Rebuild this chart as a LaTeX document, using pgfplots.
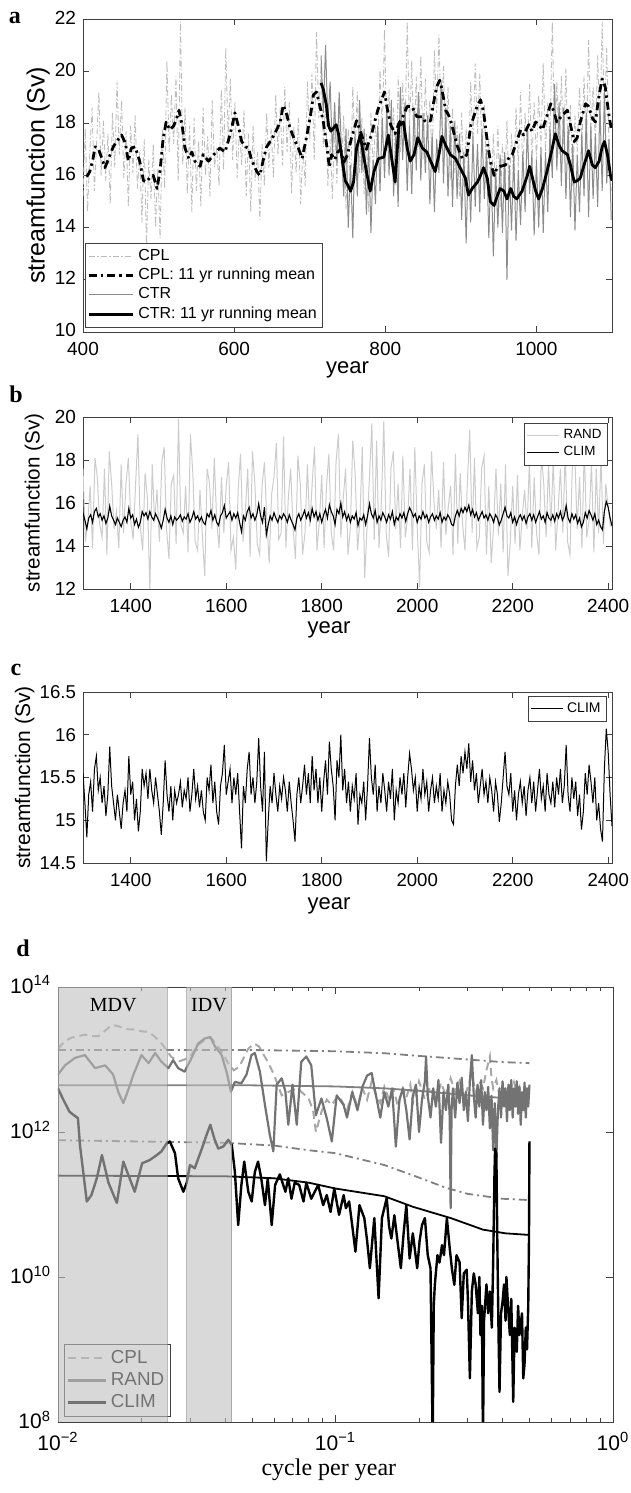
\documentclass[border=0pt]{standalone}
\usepackage{fontspec}
\setmainfont{Liberation Sans}
\newfontfamily\tms{Liberation Serif}
\usepackage{pgfplots}
\usepackage{pgfplotstable}
\pgfplotsset{compat=1.18}

\definecolor{cCPL}{gray}{0.74}
\definecolor{cCTR}{gray}{0.55}
\definecolor{cRAND}{gray}{0.80}
\definecolor{sCPL}{gray}{0.66}
\definecolor{sRAND}{gray}{0.45}
\definecolor{sSIG}{gray}{0.50}

\tikzset{
 cplraw/.style={color=cCPL, line width=0.45pt, dash pattern=on 3pt off 1.2pt on 0.6pt off 1.2pt},
 cplmean/.style={black, line width=1.4pt, line join=round, dash pattern=on 4pt off 2pt on 1.2pt off 2pt},
 ctrraw/.style={color=cCTR, line width=0.5pt},
 ctrmean/.style={black, line width=1.4pt, line join=round},
 randraw/.style={color=cRAND, line width=0.5pt},
 climraw/.style={black, line width=0.55pt},
 speccpl/.style={color=sCPL, line width=1pt, dash pattern=on 4pt off 2.5pt},
 specrand/.style={color=sRAND, line width=1.1pt, line join=round},
 specclim/.style={black, line width=1.2pt, line join=round},
 specsig/.style={color=sSIG, line width=0.9pt, dash pattern=on 4pt off 2pt on 1pt off 2pt},
 specrfit/.style={color=sSIG, line width=0.9pt},
 speccfit/.style={black, line width=0.9pt},
}

\pgfplotsset{
 panelstyle/.style={scale only axis, anchor=south west, width=264.5pt,
  axis line style={black!75}, tick style={black!75, line width=0.4pt},
  major tick length=3pt, tick align=inside,
  /pgf/number format/1000 sep={}, /pgf/number format/assume math mode=true,
  ticklabel style={font=\fontsize{9.5}{10}\selectfont},
  xticklabel style={yshift=-1.5pt},
  legend cell align=left,
  legend style={draw=black!75, fill=white, inner sep=1pt, row sep=-1.5pt},
 },
}

% ---------------- panel a data ----------------
\pgfplotstableread[row sep=\\]{v\\
15.2\\17.8\\14.6\\16.9\\18.6\\15.4\\17.2\\19.2\\16.0\\18.1\\
15.8\\17.6\\14.9\\18.4\\16.3\\19.6\\16.8\\18.9\\15.9\\17.7\\
14.8\\17.9\\16.1\\18.3\\15.5\\16.9\\14.2\\17.4\\13.3\\16.6\\
15.1\\17.2\\14.0\\16.3\\13.6\\17.8\\15.5\\20.4\\16.9\\19.1\\
17.2\\19.8\\15.8\\21.9\\16.4\\18.6\\15.3\\17.9\\14.6\\18.2\\
15.4\\17.3\\14.8\\18.6\\16.0\\17.5\\15.2\\18.9\\16.3\\17.1\\
15.6\\19.3\\16.2\\20.9\\17.4\\19.7\\16.6\\18.8\\15.9\\17.8\\
16.4\\18.5\\15.2\\17.6\\14.6\\17.9\\15.8\\16.9\\14.3\\17.2\\
15.6\\18.4\\16.3\\17.8\\15.9\\19.1\\16.8\\18.6\\16.4\\19.4\\
16.9\\18.8\\15.3\\17.9\\16.1\\18.2\\14.9\\17.1\\15.6\\19.6\\
17.4\\19.9\\16.6\\21.5\\18.2\\20.3\\17.1\\18.8\\15.6\\17.4\\
15.1\\17.9\\15.7\\18.6\\16.2\\18.3\\14.7\\17.8\\15.4\\19.4\\
16.8\\19.2\\16.1\\18.2\\15.3\\17.6\\14.6\\18.4\\16.2\\17.9\\
16.9\\20.1\\17.6\\21.6\\17.2\\19.3\\16.4\\18.6\\15.6\\19.8\\
16.9\\19.6\\17.3\\21.9\\17.8\\20.4\\16.9\\19.8\\17.1\\20.6\\
16.6\\19.7\\17.4\\18.9\\16.3\\20.8\\18.4\\21.4\\17.9\\20.2\\
16.9\\19.4\\15.8\\18.6\\16.1\\17.9\\15.2\\18.4\\15.6\\17.8\\
16.2\\19.6\\17.1\\20.3\\17.6\\19.9\\16.8\\18.7\\15.9\\17.4\\
14.9\\17.6\\15.2\\17.9\\14.8\\17.2\\15.4\\18.1\\15.1\\17.6\\
15.8\\18.6\\16.3\\19.2\\16.1\\18.4\\16.9\\19.5\\16.4\\18.8\\
16.6\\19.1\\17.2\\20.3\\16.9\\18.8\\17.4\\21.9\\17.3\\19.6\\
16.8\\19.8\\17.2\\20.1\\16.4\\18.7\\15.6\\18.3\\16.9\\19.4\\
17.1\\19.8\\16.9\\21.2\\17.6\\19.4\\17.2\\20.6\\17.8\\21.9\\
18.1\\20.9\\17.2\\15.4\\
}\cplrawtab

\pgfplotstableread[row sep=\\]{v\\
20.6\\18.4\\21.0\\17.9\\19.6\\16.8\\18.8\\16.4\\19.2\\17.0\\
15.2\\17.8\\14.0\\16.4\\13.6\\17.6\\15.2\\18.9\\16.1\\17.8\\
14.5\\17.2\\13.8\\16.6\\14.9\\17.9\\15.4\\18.2\\15.9\\18.6\\
16.0\\18.9\\15.2\\17.6\\14.8\\19.4\\16.6\\18.8\\15.4\\17.9\\
15.3\\18.6\\16.2\\19.2\\15.8\\18.4\\16.1\\18.3\\14.9\\17.6\\
14.6\\17.4\\16.1\\19.6\\15.7\\18.6\\15.2\\17.9\\14.8\\18.1\\
15.1\\17.6\\14.3\\16.9\\13.4\\16.8\\14.2\\17.5\\14.8\\17.2\\
14.6\\17.8\\15.1\\17.0\\13.6\\16.4\\12.9\\16.2\\14.0\\16.8\\
13.8\\16.9\\12.0\\16.4\\13.9\\16.8\\13.5\\16.2\\14.1\\16.9\\
14.6\\17.9\\15.3\\16.8\\13.7\\16.6\\14.0\\17.1\\13.8\\16.9\\
14.6\\17.8\\15.9\\19.5\\16.2\\18.8\\15.6\\18.6\\15.1\\17.9\\
14.4\\17.2\\13.9\\16.8\\14.6\\17.6\\15.2\\18.4\\14.4\\17.9\\
15.1\\17.6\\14.8\\18.8\\15.4\\19.2\\15.7\\17.4\\14.3\\
}\ctrrawtab

\pgfplotstableread{
x y
405 15.95
409 16.15
413 16.6
416 17.1
420 17.05
425 16.65
429 16.3
434 16.65
440 17.1
447 17.4
451 17.55
456 17.25
460 16.55
464 17.05
469 17.1
475 16.55
480 15.8
484 15.75
489 15.95
493 16.0
498 15.5
502 16.2
506 17.4
510 18.05
515 17.75
520 17.9
524 18.2
527 18.5
531 17.95
535 17.05
540 16.65
544 16.9
548 16.55
555 16.35
559 16.8
566 16.55
573 16.8
581 17.05
588 16.9
592 17.3
597 17.85
601 18.4
606 17.85
610 17.3
615 17.1
619 17.05
623 16.6
630 16.15
634 16.0
639 16.65
643 17.1
650 17.4
657 17.8
661 18.05
665 18.7
670 18.3
674 17.8
681 17.3
685 17.05
690 16.65
696 17.5
701 18.3
705 19.1
709 19.2
714 18.6
718 18.05
723 17.05
726 16.3
729 16.8
733 16.6
737 16.9
741 17.0
745 16.5
750 16.8
755 17.4
762 18.1
768 17.6
775 17.0
782 17.6
790 18.5
795 18.9
799 19.2
803 18.5
807 17.95
813 17.6
818 18.0
824 18.3
829 18.65
835 18.65
842 18.25
849 18.25
853 18.05
860 18.1
864 18.8
868 19.4
872 19.65
875 19.3
880 18.5
884 18.3
888 17.95
895 17.15
902 16.65
908 16.8
913 17.9
917 18.25
922 18.7
926 18.9
930 18.45
935 17.3
939 16.55
944 16.0
948 16.3
952 16.35
959 16.4
963 16.65
968 16.8
972 17.15
979 17.75
983 17.55
990 17.95
994 17.7
999 18.05
1003 17.95
1008 17.75
1014 18.3
1019 18.75
1023 18.45
1027 18.05
1034 18.3
1041 18.5
1045 17.95
1050 17.3
1054 17.45
1058 18.05
1065 18.75
1069 18.65
1074 18.2
1078 18.05
1083 19.1
1087 19.7
1091 19.4
1096 18.3
1099 17.8
}\cplmeantab

\pgfplotstableread{
x y
715 19.55
718 19.3
722 18.7
725 17.9
728 17.7
731 17.8
735 17.95
738 17.6
741 17.0
744 16.4
747 15.8
751 15.6
754 15.4
758 15.75
762 17.05
767 17.55
771 16.8
776 16.0
780 15.4
785 16.15
791 16.65
798 16.7
804 17.55
809 16.55
813 15.75
818 17.9
824 18.05
829 17.05
833 16.55
838 16.8
843 17.45
849 17.05
855 16.9
860 16.55
866 16.15
871 16.8
875 17.5
880 17.15
886 16.8
893 16.65
899 16.3
906 15.9
910 15.25
915 15.5
922 15.75
926 16.0
930 16.3
935 15.9
939 15.0
944 14.85
948 15.2
952 15.5
957 15.4
961 15.1
966 15.5
970 15.2
974 15.1
981 15.4
988 16.0
991 16.35
994 16.0
999 15.4
1003 15.1
1008 15.5
1014 16.15
1021 17.05
1025 17.6
1030 17.15
1034 16.95
1041 16.8
1045 16.4
1050 15.75
1054 15.8
1058 15.9
1063 16.4
1069 16.95
1074 16.4
1078 16.3
1083 16.55
1087 17.1
1090 17.3
1094 16.8
1098 16.0
1100 15.8
}\ctrmeantab

% ---------------- panel b/c data ----------------
\pgfplotstableread[row sep=\\]{v\\
17.6\\14.2\\15.1\\16.8\\13.9\\18.1\\17.2\\15.0\\14.4\\17.6\\
13.6\\18.4\\16.9\\14.8\\15.6\\13.9\\17.8\\14.6\\16.9\\18.1\\
15.2\\14.3\\16.8\\19.2\\14.9\\13.8\\17.4\\16.2\\11.9\\17.8\\
15.1\\16.6\\14.2\\17.9\\18.6\\14.8\\13.4\\16.9\\17.3\\14.1\\
19.9\\15.0\\14.6\\16.8\\13.7\\19.2\\17.4\\14.2\\13.8\\16.6\\
14.5\\12.6\\17.6\\16.9\\14.8\\18.1\\15.2\\13.9\\17.2\\14.6\\
16.8\\17.9\\13.8\\14.4\\12.9\\16.6\\18.3\\14.2\\15.6\\17.6\\
13.5\\18.4\\16.9\\14.1\\13.6\\16.8\\17.9\\15.2\\13.2\\16.4\\
17.2\\18.8\\14.3\\14.6\\19.1\\13.9\\16.2\\17.6\\14.8\\13.4\\
18.2\\16.9\\13.6\\14.6\\17.8\\14.9\\16.9\\18.6\\13.8\\15.1\\
17.3\\13.9\\16.8\\18.3\\14.6\\13.8\\17.9\\19.2\\14.4\\16.2\\
17.6\\13.6\\14.8\\18.9\\17.4\\13.8\\15.2\\18.6\\12.5\\14.9\\
17.2\\19.7\\14.3\\18.9\\13.9\\16.1\\19.8\\14.6\\13.5\\17.6\\
18.4\\14.8\\16.9\\13.9\\18.2\\14.4\\15.3\\17.6\\13.8\\18.6\\
14.9\\12.1\\16.9\\17.8\\14.2\\13.7\\18.4\\16.1\\14.8\\16.6\\
13.9\\17.9\\14.5\\15.8\\16.8\\13.6\\18.3\\14.1\\17.4\\15.0\\
13.8\\16.9\\19.4\\14.6\\18.1\\13.9\\14.4\\17.6\\18.2\\13.6\\
16.8\\13.2\\14.9\\17.6\\14.5\\16.9\\13.7\\17.8\\12.6\\14.2\\
16.8\\14.1\\17.3\\13.8\\15.4\\16.6\\14.8\\17.9\\13.9\\17.2\\
14.6\\13.6\\18.2\\16.9\\14.4\\17.8\\14.9\\18.1\\13.8\\15.6\\
17.6\\14.6\\18.4\\14.2\\13.6\\17.8\\18.3\\14.8\\17.2\\13.9\\
18.6\\14.4\\15.2\\17.9\\13.7\\17.6\\14.6\\18.2\\14.1\\16.9\\
15.8\\14.9\\
}\randtab

\pgfplotstableread[row sep=\\]{v\\
15.55\\15.2\\14.8\\15.3\\15.45\\15.1\\15.6\\15.75\\15.35\\15.5\\
15.2\\15.4\\15.05\\15.3\\15.86\\15.4\\15.2\\15.0\\15.3\\15.1\\
14.9\\15.2\\15.35\\15.1\\15.75\\15.3\\15.45\\15.0\\15.25\\14.87\\
15.1\\15.6\\15.4\\15.55\\15.25\\15.6\\15.35\\15.2\\15.5\\15.3\\
15.1\\14.83\\15.2\\15.7\\15.3\\15.1\\15.4\\15.0\\15.35\\15.2\\
15.3\\15.45\\15.15\\15.35\\15.25\\15.5\\15.1\\15.3\\15.6\\15.25\\
15.4\\15.15\\15.35\\15.1\\15.0\\15.5\\15.35\\15.65\\15.2\\15.45\\
15.1\\14.95\\15.4\\15.55\\15.88\\15.3\\15.45\\15.6\\15.2\\15.5\\
15.3\\15.55\\15.1\\14.67\\15.4\\15.2\\15.6\\15.8\\15.3\\15.5\\
15.2\\15.45\\15.96\\15.4\\15.1\\15.8\\14.52\\15.0\\15.4\\15.2\\
15.55\\15.3\\15.1\\15.4\\15.25\\15.5\\15.35\\15.1\\15.45\\15.2\\
15.0\\14.75\\15.3\\15.5\\15.2\\15.4\\15.65\\15.3\\15.55\\15.2\\
15.75\\15.35\\15.6\\15.2\\15.5\\15.1\\15.45\\15.7\\15.3\\15.92\\
15.6\\15.4\\15.0\\15.7\\15.5\\16.0\\15.35\\15.6\\15.2\\15.45\\
15.1\\15.4\\15.25\\15.55\\14.95\\15.3\\15.2\\15.45\\15.0\\15.4\\
15.96\\15.5\\15.3\\15.65\\15.1\\15.4\\15.2\\15.55\\15.35\\15.1\\
15.45\\15.25\\15.6\\15.0\\15.35\\15.2\\15.5\\15.3\\15.55\\15.15\\
15.5\\15.78\\15.6\\15.35\\15.5\\15.1\\15.4\\15.25\\15.6\\15.3\\
15.45\\15.1\\15.35\\15.5\\15.2\\15.4\\15.25\\15.55\\15.1\\15.35\\
15.2\\15.45\\15.3\\15.0\\14.95\\15.4\\15.65\\15.4\\15.75\\15.55\\
15.8\\15.6\\15.9\\15.45\\15.7\\15.35\\15.55\\15.2\\15.4\\15.6\\
15.3\\15.45\\15.2\\15.5\\15.35\\15.1\\15.45\\15.3\\14.98\\15.2\\
15.5\\15.8\\15.4\\15.3\\15.55\\15.1\\15.35\\15.0\\15.3\\15.45\\
15.2\\15.4\\15.05\\15.35\\15.5\\15.2\\15.45\\15.1\\15.35\\15.6\\
15.25\\15.4\\15.1\\15.55\\15.3\\15.2\\15.45\\15.15\\15.5\\15.3\\
15.6\\15.2\\15.4\\15.88\\15.3\\15.1\\15.5\\15.25\\15.45\\15.05\\
15.3\\14.89\\15.1\\15.55\\15.3\\15.65\\15.45\\15.2\\15.5\\15.0\\
15.2\\14.9\\14.75\\15.6\\16.07\\15.8\\15.3\\14.93\\
}\climtab

% ---------------- panel d data ----------------
\pgfplotstableread{
x y
0.0100 1.4e13
0.0106 1.8e13
0.0112 2.0e13
0.0118 2.1e13
0.0125 2.2e13
0.0132 2.1e13
0.0140 2.1e13
0.0148 2.5e13
0.0156 3.0e13
0.0164 2.9e13
0.0172 2.7e13
0.0180 2.6e13
0.0189 2.6e13
0.0200 2.45e13
0.0212 2.4e13
0.0222 2.1e13
0.0230 1.85e13
0.0238 1.6e13
0.0246 1.35e13
0.0255 1.1e13
0.0265 1.0e13
0.0275 9.5e12
0.0286 1.0e13
0.0300 1.12e13
0.0320 1.58e13
0.0340 1.9e13
0.0355 2.0e13
0.0370 1.66e13
0.0390 1.26e13
0.0410 8.9e12
0.0430 7.1e12
0.0450 7.9e12
0.0485 1.41e13
0.0510 1.66e13
0.0530 1.51e13
0.0570 9.3e12
0.0600 6.2e12
0.0640 3.2e12
0.0680 3.6e12
0.0730 4.0e12
0.0800 2.9e12
0.0830 2.0e12
0.0850 1.0e12
0.0890 1.9e12
0.0930 2.8e12
0.0970 2.35e12
0.1020 3.16e12
0.1050 2.75e12
0.110 2.0e12
0.115 3.55e12
0.120 2.24e12
0.125 4.0e12
0.130 2.8e12
0.135 5.0e12
0.140 3.16e12
0.145 2.5e12
0.150 4.2e12
0.156 2.8e12
0.162 3.8e12
0.168 2.24e12
0.175 4.0e12
0.180 3.0e12
0.186 4.5e12
0.190 2.5e12
0.196 3.55e12
0.200 5.0e12
0.210 2.8e12
0.220 4.2e12
0.230 2.5e12
0.240 4.8e12
0.250 3.16e12
0.260 5.5e12
0.270 3.55e12
0.280 5.0e12
0.290 2.8e12
0.300 4.2e12
0.310 6.3e12
0.320 3.55e12
0.330 5.0e12
0.340 4.0e12
0.350 7.1e12
0.360 1.1e13
0.365 5.6e12
0.370 4.0e12
0.380 5.2e12
0.390 3.16e12
0.400 4.5e12
0.410 2.8e12
0.420 4.0e12
0.430 3.16e12
0.440 4.8e12
0.450 3.55e12
0.460 4.2e12
0.470 2.8e12
0.480 4.0e12
0.490 3.16e12
0.500 3.55e12
}\dcpltab

\pgfplotstableread{
x y
0.0100 6.2e12
0.0106 8.3e12
0.0115 1.05e13
0.0125 1.15e13
0.0136 7.6e12
0.0148 8.3e12
0.0158 6.2e12
0.0165 3.55e12
0.0172 2.5e12
0.0180 4.0e12
0.0187 6.2e12
0.0200 1.15e13
0.0212 8.9e12
0.0224 1.23e13
0.0236 9.3e12
0.0250 7.6e12
0.0260 9.8e12
0.0271 7.6e12
0.0286 6.8e12
0.0303 1.05e13
0.0320 1.66e13
0.0338 1.95e13
0.0354 2.04e13
0.0368 1.51e13
0.0389 1.15e13
0.0406 6.5e12
0.0420 3.6e12
0.0434 4.9e12
0.0458 4.7e12
0.0478 6.2e12
0.0498 1.15e13
0.0512 1.23e13
0.0534 6.8e12
0.0557 2.35e12
0.0580 9.1e11
0.0597 5.4e11
0.0614 4.5e12
0.0640 5.5e12
0.0660 3.6e12
0.0676 1.26e12
0.0700 4.5e12
0.0725 1.26e12
0.0753 9.3e12
0.0785 1.1e13
0.0818 8.3e12
0.0850 1.7e12
0.0890 2.9e12
0.0930 1.55e12
0.0970 7.4e11
0.1010 3.2e12
0.1070 2.35e12
0.110 1.58e12
0.115 3.55e12
0.120 2.0e12
0.125 4.2e12
0.130 6.0e12
0.135 6.5e12
0.140 3.16e12
0.145 1.58e12
0.150 3.55e12
0.155 2.24e12
0.160 4.0e12
0.165 6.3e11
0.170 2.8e12
0.175 4.0e12
0.180 2.0e12
0.185 7.9e11
0.190 3.16e12
0.195 4.5e12
0.200 1.0e12
0.205 2.8e12
0.210 5.0e12
0.212 1.1e13
0.215 3.16e12
0.220 1.58e12
0.225 4.0e12
0.230 2.24e12
0.235 5.2e12
0.240 7.1e11
0.245 3.55e12
0.250 2.0e12
0.255 4.5e12
0.258 1.58e12
0.260 8.9e10
0.262 2.0e12
0.265 4.0e12
0.270 1.58e12
0.275 4.8e12
0.280 2.5e12
0.285 5.6e12
0.290 2.0e12
0.295 3.55e12
0.300 1.41e12
0.305 5.0e12
0.310 1.15e13
0.315 3.16e12
0.320 1.58e12
0.325 4.5e12
0.330 2.24e12
0.335 5.2e12
0.340 1.26e12
0.345 3.55e12
0.350 2.0e12
0.355 4.2e12
0.360 1.12e12
0.365 3.16e12
0.370 5.6e11
0.375 2.5e12
0.380 4.4e11
0.385 2.0e12
0.390 4.0e12
0.395 1.58e12
0.400 5.0e12
0.405 2.24e12
0.410 4.0e12
0.415 1.41e12
0.420 4.5e12
0.425 2.0e12
0.430 5.2e12
0.435 1.58e12
0.440 4.0e12
0.445 2.24e12
0.450 5.0e12
0.455 1.78e12
0.460 4.2e12
0.465 1.26e12
0.470 3.55e12
0.475 2.0e12
0.480 4.8e12
0.485 1.58e12
0.490 4.0e12
0.495 2.24e12
0.500 4.5e12
}\drandtab

\pgfplotstableread{
x y
0.0100 4.0e12
0.0104 2.9e12
0.0110 1.9e12
0.0118 1.55e12
0.0120 6.6e11
0.0127 1.1e11
0.0132 1.35e11
0.0138 2.3e11
0.0144 4.8e11
0.0152 2.0e11
0.0163 1.05e11
0.0172 3.9e11
0.0179 2.6e11
0.0189 1.5e11
0.0201 3.7e11
0.0214 4.1e11
0.0227 4.8e11
0.0236 5.4e11
0.0246 6.9e11
0.0253 7.4e11
0.0264 5.1e11
0.0271 2.3e11
0.0283 1.5e11
0.0291 2.0e11
0.0299 3.5e11
0.0311 3.16e11
0.0330 5.9e11
0.0343 9.1e11
0.0354 1.26e12
0.0366 8.1e11
0.0378 5.9e11
0.0394 6.3e11
0.0411 7.8e11
0.0423 6.6e11
0.0434 2.8e11
0.0446 5.2e10
0.0458 1.86e11
0.0469 3.9e11
0.0485 1.5e11
0.0499 1.1e11
0.0512 2.8e11
0.0526 3.9e11
0.0540 2.3e11
0.0557 9.8e10
0.0570 2.3e11
0.0589 5.2e10
0.0606 1.86e11
0.0630 2.6e11
0.0660 1.5e11
0.0676 2.3e11
0.0694 1.2e11
0.0713 2.0e11
0.0740 1.86e11
0.0767 1.1e11
0.0785 2.0e11
0.0818 1.2e11
0.0866 1.86e11
0.0903 9.8e10
0.0930 1.35e11
0.0960 7.9e10
0.0990 1.66e11
0.1030 7.2e10
0.1070 1.35e11
0.1090 8.9e10
0.1120 1.1e11
0.1150 5.0e10
0.1180 2.24e10
0.1220 9.8e10
0.1270 6.5e10
0.1300 3.16e10
0.1330 1.32e10
0.1380 6.5e10
0.1430 5.1e9
0.1470 6.5e10
0.1530 1.23e11
0.1560 5.0e10
0.1590 3.4e10
0.1630 7.1e10
0.1660 4.0e10
0.1720 1.32e10
0.1760 4.0e10
0.1800 9.8e10
0.1850 1.8e10
0.1900 4.0e10
0.1970 1.32e10
0.2010 3.16e10
0.2050 5.2e10
0.2100 6.5e10
0.2150 2.0e10
0.2200 1.32e10
0.2240 5e7
0.2260 4.0e9
0.2280 7.8e9
0.2330 2.0e10
0.2370 1.58e10
0.2420 2.75e10
0.2460 2.0e10
0.2520 6.5e10
0.2580 2.5e10
0.2630 1.26e10
0.2680 7.8e9
0.2730 2.0e10
0.2800 1.6e10
0.2850 2.7e9
0.2900 1.12e10
0.2970 1.26e10
0.3000 5.0e9
0.3050 4.0e8
0.3100 6.3e9
0.3150 1.12e10
0.3200 7.9e9
0.3260 3.16e9
0.3300 1.0e10
0.3330 1.58e9
0.3370 4.0e9
0.3400 5e7
0.3430 2.5e9
0.3500 7.9e9
0.3550 3.16e9
0.3600 6.3e9
0.3660 2.0e9
0.3700 1.58e10
0.3740 2.5e11
0.3760 5.9e11
0.3800 5.0e11
0.3830 3.16e10
0.3870 1.58e9
0.3900 2.6e8
0.3950 3.16e9
0.4000 4.6e9
0.4050 7.9e9
0.4100 2.5e9
0.4130 1.0e10
0.4200 3.16e9
0.4250 1.58e9
0.4300 5.0e9
0.4370 1.9e8
0.4420 2.0e9
0.4500 9.3e8
0.4550 4.0e9
0.4600 1.58e9
0.4700 3.16e9
0.4750 4.0e8
0.4800 6.3e8
0.4850 2.0e9
0.4900 1.0e9
0.4950 4.0e9
0.4980 3.16e10
0.5000 7.4e11
}\dclimtab

\begin{document}
\begin{tikzpicture}
\path[use as bounding box] (0,0) rectangle (315.5pt,746.5pt);

\node[font=\tms\bfseries\fontsize{12}{12}\selectfont] at (7.5pt,737.5pt) {a};
\node[font=\tms\bfseries\fontsize{12}{12}\selectfont] at (8pt,549.5pt) {b};
\node[font=\tms\bfseries\fontsize{12}{12}\selectfont] at (8pt,411.5pt) {c};
\node[font=\tms\bfseries\fontsize{12}{12}\selectfont] at (11.5pt,272.5pt) {d};

% ---------------- panel a ----------------
\begin{axis}[panelstyle, at={(41.5pt,580.5pt)}, height=156.5pt,
  xmin=400, xmax=1100, ymin=10, ymax=22,
  xtick={400,600,800,1000}, ytick={10,12,14,16,18,20,22},
  yticklabel style={yshift=0.8pt},
  xlabel={year}, ylabel={streamfunction (Sv)},
  xlabel style={font=\fontsize{11}{12}\selectfont, at={(axis description cs:0.5,-0.122)}, anchor=center},
  ylabel style={font=\fontsize{12.5}{13}\selectfont, at={(axis description cs:-0.085,0.5)}, anchor=center},
  legend style={at={(0.004,0.013)}, anchor=south west, font=\fontsize{8}{9}\selectfont},
  legend image code/.code={\draw[#1] (0pt,0pt) -- (22pt,0pt);}]
\addplot[cplraw] table[x expr=400+3*\coordindex, y=v] {\cplrawtab};
\addlegendentry{CPL}
\addplot[ctrraw, forget plot] table[x expr=715+3*\coordindex, y=v] {\ctrrawtab};
\addplot[cplmean] table[x=x, y=y] {\cplmeantab};
\addlegendentry{CPL: 11 yr running mean}
\addlegendimage{ctrraw}
\addlegendentry{CTR}
\addplot[ctrmean] table[x=x, y=y] {\ctrmeantab};
\addlegendentry{CTR: 11 yr running mean}
\end{axis}

% ---------------- panel b ----------------
\begin{axis}[panelstyle, at={(41.5pt,452pt)}, height=86pt,
  xmin=1300, xmax=2408, ymin=12, ymax=20,
  xtick={1400,1600,1800,2000,2200,2400}, ytick={12,14,16,18,20},
  xlabel={year}, ylabel={streamfunction (Sv)},
  xlabel style={font=\fontsize{11}{12}\selectfont, at={(axis description cs:0.465,-0.235)}, anchor=center},
  ylabel style={font=\fontsize{10.3}{11}\selectfont, at={(axis description cs:-0.092,0.5)}, anchor=center},
  legend style={at={(0.9924,0.965)}, anchor=north east, font=\fontsize{6.7}{7.5}\selectfont},
  legend image code/.code={\draw[#1] (0pt,0pt) -- (16pt,0pt);}]
\addplot[randraw] table[x expr=1300+5*\coordindex, y=v] {\randtab};
\addlegendentry{RAND}
\addplot[climraw] table[x expr=1300+4*\coordindex, y=v] {\climtab};
\addlegendentry{CLIM}
\end{axis}

% ---------------- panel c ----------------
\begin{axis}[panelstyle, at={(41.5pt,315pt)}, height=85.5pt,
  xmin=1300, xmax=2408, ymin=14.5, ymax=16.5,
  xtick={1400,1600,1800,2000,2200,2400}, ytick={14.5,15,15.5,16,16.5},
  ticklabel style={font=\fontsize{9.3}{10}\selectfont},
  xlabel={year}, ylabel={streamfunction (Sv)},
  xlabel style={font=\fontsize{11}{12}\selectfont, at={(axis description cs:0.465,-0.25)}, anchor=center},
  ylabel style={font=\fontsize{10.5}{11}\selectfont, at={(axis description cs:-0.11,0.5)}, anchor=center},
  legend style={at={(0.9905,0.977)}, anchor=north east, font=\fontsize{7}{8}\selectfont},
  legend image code/.code={\draw[#1] (0pt,0pt) -- (16pt,0pt);}]
\addplot[black, line width=0.5pt] table[x expr=1300+4*\coordindex, y=v] {\climtab};
\addlegendentry{CLIM}
\end{axis}

% ---------------- panel d ----------------
\begin{axis}[scale only axis, anchor=south west, at={(29pt,35.5pt)}, width=277.5pt, height=217.5pt,
  xmode=log, ymode=log, xmin=0.01, xmax=1, ymin=1e8, ymax=1e14,
  axis line style={black!75}, tick style={black!75, line width=0.4pt},
  major tick length=3.5pt, minor tick length=2pt, tick align=inside,
  xtick={0.01,0.1,1}, xticklabels={10\textsuperscript{−2},10\textsuperscript{−1},10\textsuperscript{0}},
  minor xtick={0.02,0.03,0.04,0.05,0.06,0.07,0.08,0.09,0.2,0.3,0.4,0.5,0.6,0.7,0.8,0.9},
  ytick={1e8,1e10,1e12,1e14}, yticklabels={10\textsuperscript{8},10\textsuperscript{10},10\textsuperscript{12},10\textsuperscript{14}},
  ticklabel style={font=\fontsize{10.5}{11}\selectfont},
  xticklabel style={yshift=-1.5pt},
  yticklabel style={yshift=1pt},
  xlabel={\tms cycle per year},
  xlabel style={font=\fontsize{12}{13}\selectfont, at={(axis description cs:0.488,-0.11)}, anchor=center},
  legend cell align=left,
  legend style={at={(0.011,0.0115)}, anchor=south west, font=\fontsize{9.4}{10}\selectfont,
    draw=black!75, fill=white, inner sep=1pt, row sep=-1pt},
  legend image code/.code={\draw[#1] (0pt,0pt) -- (19pt,0pt);}]
\addplot[speccpl] table[x=x, y=y] {\dcpltab};
\addlegendentry{CPL}
\addplot[specsig, forget plot] coordinates {(0.01,1.35e13) (0.05,1.35e13) (0.1,1.3e13) (0.15,1.22e13) (0.2,1.12e13) (0.3,1.0e13) (0.4,9.2e12) (0.5,8.9e12)};
\addplot[specrfit, forget plot] coordinates {(0.01,4.4e12) (0.05,4.4e12) (0.1,4.25e12) (0.15,4.0e12) (0.2,3.7e12) (0.3,3.2e12) (0.4,2.95e12) (0.5,2.9e12)};
\addplot[specsig, forget plot] coordinates {(0.01,7.7e11) (0.04,7.1e11) (0.06,6.5e11) (0.08,5.6e11) (0.1,5.1e11) (0.15,3.5e11) (0.2,2.35e11) (0.25,1.7e11) (0.3,1.4e11) (0.4,1.2e11) (0.5,1.15e11)};
\addplot[specrand] table[x=x, y=y] {\drandtab};
\addlegendentry{RAND}
\addplot[specclim] table[x=x, y=y] {\dclimtab};
\addlegendentry{CLIM}
\addplot[speccfit, forget plot] coordinates {(0.01,2.5e11) (0.04,2.45e11) (0.06,2.3e11) (0.08,2.0e11) (0.1,1.66e11) (0.15,1.3e11) (0.19,9.3e10) (0.26,6.5e10) (0.34,4.5e10) (0.41,4.0e10) (0.5,3.8e10)};
\end{axis}

% shading overlay (drawn over the curves and legend)
\begin{axis}[scale only axis, anchor=south west, at={(29pt,35.5pt)}, width=277.5pt, height=217.5pt,
  xmode=log, ymode=log, xmin=0.01, xmax=1, ymin=1e8, ymax=1e14, hide axis]
\fill[black!25, fill opacity=0.6, draw=black!45, draw opacity=0.6, line width=0.4pt]
  (axis cs:0.01,1e8) rectangle (axis cs:0.0248,1e14);
\fill[black!25, fill opacity=0.6, draw=black!45, draw opacity=0.6, line width=0.4pt]
  (axis cs:0.0291,1e8) rectangle (axis cs:0.0423,1e14);
\node[font=\tms\fontsize{10}{10}\selectfont] at (axis cs:0.0158,5.6e13) {MDV};
\node[font=\tms\fontsize{10}{10}\selectfont] at (axis cs:0.0350,5.6e13) {IDV};
\end{axis}
\end{tikzpicture}
\end{document}
